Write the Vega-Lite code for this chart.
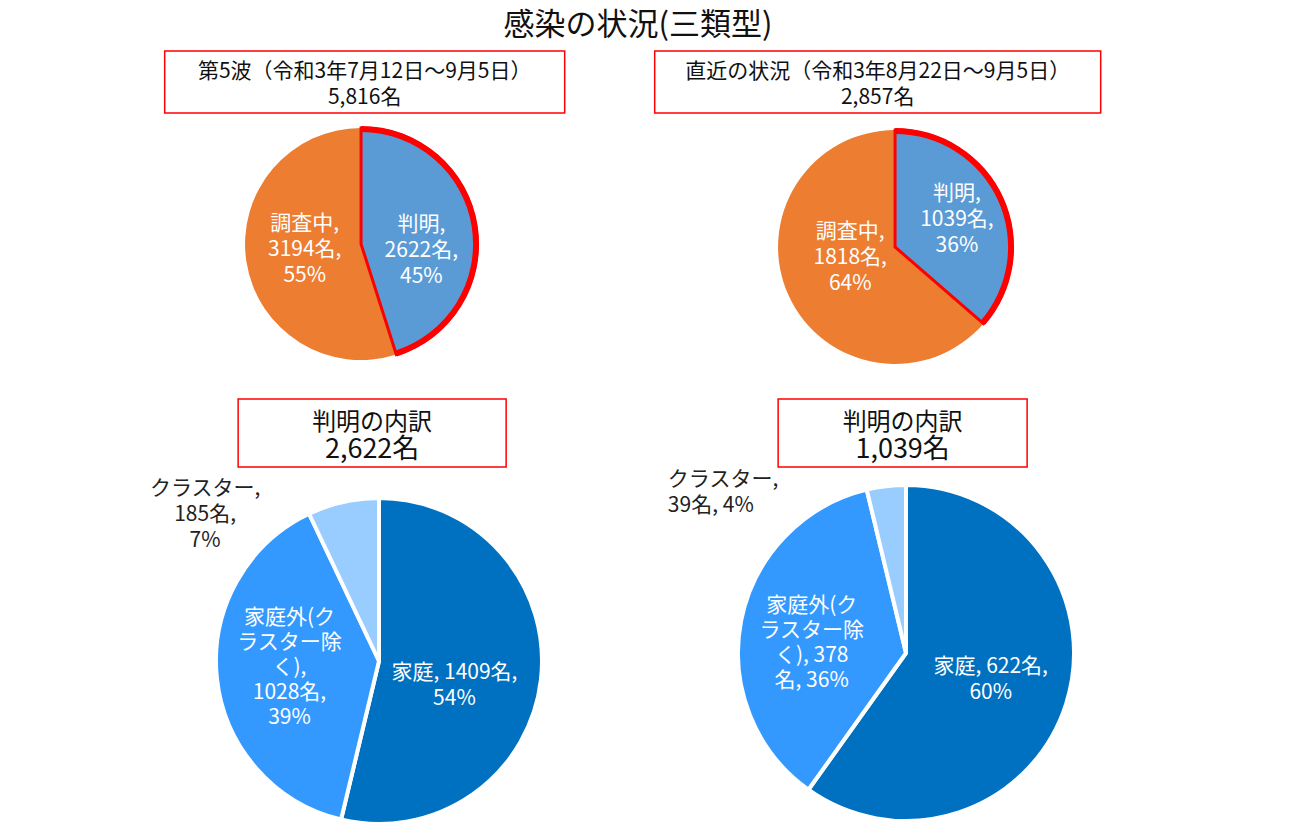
{
  "$schema": "https://vega.github.io/schema/vega-lite/v6.json",
  "padding": {"left": 140, "top": 0, "right": 0, "bottom": 0},
  "background": "white",
  "config": {"view": {"stroke": null}, "font": "Noto Sans CJK JP", "text": {"font": "Noto Sans CJK JP"}},
  "center": true,
  "spacing": 18,
  "vconcat": [
    {
      "center": true,
      "spacing": 0,
      "vconcat": [
        {
          "width": 936, "height": 50,
          "data": {"values": [{"t": "感染の状況(三類型)"}]},
          "mark": {"type": "text", "fontSize": 31, "dy": 1, "dx": 5, "color": "#111111", "font": "Noto Sans CJK JP", "baseline": "middle", "align": "center"},
          "encoding": {"text": {"field": "t", "type": "nominal"}}
        },
        {
          "bounds": "flush",
          "spacing": 90,
          "hconcat": [
            {
              "width": 400, "height": 62,
              "view": {"stroke": "#FF0000", "strokeWidth": 1.5},
              "data": {"values": [{"t1": "第5波（令和3年7月12日～9月5日）", "t2": "5,816名"}]},
              "layer": [
                {"mark": {"type": "text", "fontSize": 21, "dy": -10, "color": "#111111", "font": "Noto Sans CJK JP", "baseline": "middle"}, "encoding": {"text": {"field": "t1", "type": "nominal"}}},
                {"mark": {"type": "text", "fontSize": 21, "dy": 16, "color": "#111111", "font": "Noto Sans CJK JP", "baseline": "middle"}, "encoding": {"text": {"field": "t2", "type": "nominal"}}}
              ]
            },
            {
              "width": 446, "height": 62,
              "view": {"stroke": "#FF0000", "strokeWidth": 1.5},
              "data": {"values": [{"t1": "直近の状況（令和3年8月22日～9月5日）", "t2": "2,857名"}]},
              "layer": [
                {"mark": {"type": "text", "fontSize": 21, "dy": -10, "color": "#111111", "font": "Noto Sans CJK JP", "baseline": "middle"}, "encoding": {"text": {"field": "t1", "type": "nominal"}}},
                {"mark": {"type": "text", "fontSize": 21, "dy": 16, "color": "#111111", "font": "Noto Sans CJK JP", "baseline": "middle"}, "encoding": {"text": {"field": "t2", "type": "nominal"}}}
              ]
            }
          ]
        },
        {
          "bounds": "flush",
          "spacing": 284,
          "hconcat": [
            {
              "width": 240, "height": 260,
              "data": {"values": [
                {"k": "判明", "v": 2622, "label": "判明,\n2622名,\n45%"},
                {"k": "調査中", "v": 3194, "label": "調査中,\n3194名,\n55%"}
              ]},
              "encoding": {
                "theta": {"field": "v", "type": "quantitative", "stack": "normalize"},
                "order": {"field": "v", "type": "quantitative", "sort": "ascending"},
                "detail": {"field": "k", "type": "nominal"}
              },
              "layer": [
                {"mark": {"type": "arc", "outerRadius": 116}, "encoding": {"color": {"field": "k", "type": "nominal", "scale": {"domain": ["判明", "調査中", "家庭", "家庭外", "クラスター"], "range": ["#5B9BD5", "#ED7D31", "#0070C0", "#3399FF", "#99CCFF"]}, "legend": null}}},
                {"mark": {"type": "arc", "outerRadius": 116, "fill": "transparent", "stroke": "#FF0000", "strokeWidth": 3}, "encoding": {"strokeOpacity": {"condition": {"test": "datum.k === '判明'", "value": 1}, "value": 0}}},
                {"mark": {"type": "arc", "outerRadius": 118, "innerRadius": 112, "fill": "#FF0000"}, "encoding": {"fillOpacity": {"condition": {"test": "datum.k === '判明'", "value": 1}, "value": 0}}},
                {"mark": {"type": "text", "radius": 60, "dx": 1, "dy": -10, "fontSize": 21, "lineBreak": "\n", "lineHeight": 26, "color": "white", "font": "Noto Sans CJK JP", "baseline": "middle"}, "encoding": {"text": {"condition": {"test": "datum.k === '判明'", "field": "label", "type": "nominal"}, "value": ""}}},
                {"mark": {"type": "text", "radius": 56, "dx": -1, "dy": -29, "fontSize": 21, "lineBreak": "\n", "lineHeight": 26, "color": "white", "font": "Noto Sans CJK JP", "baseline": "middle"}, "encoding": {"text": {"condition": {"test": "datum.k === '調査中'", "field": "label", "type": "nominal"}, "value": ""}}}
              ]
            },
            {
              "width": 260, "height": 266,
              "data": {"values": [
                {"k": "判明", "v": 1039, "label": "判明,\n1039名,\n36%"},
                {"k": "調査中", "v": 1818, "label": "調査中,\n1818名,\n64%"}
              ]},
              "encoding": {
                "theta": {"field": "v", "type": "quantitative", "stack": "normalize"},
                "order": {"field": "v", "type": "quantitative", "sort": "ascending"},
                "detail": {"field": "k", "type": "nominal"}
              },
              "layer": [
                {"mark": {"type": "arc", "outerRadius": 117}, "encoding": {"color": {"field": "k", "type": "nominal", "scale": {"domain": ["判明", "調査中", "家庭", "家庭外", "クラスター"], "range": ["#5B9BD5", "#ED7D31", "#0070C0", "#3399FF", "#99CCFF"]}, "legend": null}}},
                {"mark": {"type": "arc", "outerRadius": 117, "fill": "transparent", "stroke": "#FF0000", "strokeWidth": 3}, "encoding": {"strokeOpacity": {"condition": {"test": "datum.k === '判明'", "value": 1}, "value": 0}}},
                {"mark": {"type": "arc", "outerRadius": 119, "innerRadius": 113, "fill": "#FF0000"}, "encoding": {"fillOpacity": {"condition": {"test": "datum.k === '判明'", "value": 1}, "value": 0}}},
                {"mark": {"type": "text", "radius": 68, "dx": 0, "dy": -25, "fontSize": 21, "lineBreak": "\n", "lineHeight": 26, "color": "white", "font": "Noto Sans CJK JP", "baseline": "middle"}, "encoding": {"text": {"condition": {"test": "datum.k === '判明'", "field": "label", "type": "nominal"}, "value": ""}}},
                {"mark": {"type": "text", "radius": 46, "dx": -3, "dy": -34, "fontSize": 21, "lineBreak": "\n", "lineHeight": 26, "color": "white", "font": "Noto Sans CJK JP", "baseline": "middle"}, "encoding": {"text": {"condition": {"test": "datum.k === '調査中'", "field": "label", "type": "nominal"}, "value": ""}}}
              ]
            }
          ]
        }
      ]
    },
    {
      "center": true,
      "spacing": 0,
      "vconcat": [
        {
          "bounds": "flush",
          "spacing": 272,
          "hconcat": [
            {
              "width": 268, "height": 68,
              "view": {"stroke": "#FF0000", "strokeWidth": 1.5},
              "data": {"values": [{"t1": "判明の内訳", "t2": "2,622名"}]},
              "layer": [
                {"mark": {"type": "text", "fontSize": 24, "dy": -10, "color": "#111111", "font": "Noto Sans CJK JP", "baseline": "middle"}, "encoding": {"text": {"field": "t1", "type": "nominal"}}},
                {"mark": {"type": "text", "fontSize": 27, "dy": 17, "color": "#111111", "font": "Noto Sans CJK JP", "baseline": "middle"}, "encoding": {"text": {"field": "t2", "type": "nominal"}}}
              ]
            },
            {
              "width": 249, "height": 68,
              "view": {"stroke": "#FF0000", "strokeWidth": 1.5},
              "data": {"values": [{"t1": "判明の内訳", "t2": "1,039名"}]},
              "layer": [
                {"mark": {"type": "text", "fontSize": 24, "dy": -10, "color": "#111111", "font": "Noto Sans CJK JP", "baseline": "middle"}, "encoding": {"text": {"field": "t1", "type": "nominal"}}},
                {"mark": {"type": "text", "fontSize": 27, "dy": 17, "color": "#111111", "font": "Noto Sans CJK JP", "baseline": "middle"}, "encoding": {"text": {"field": "t2", "type": "nominal"}}}
              ]
            }
          ]
        },
        {
          "bounds": "flush",
          "spacing": 68,
          "hconcat": [
            {
              "width": 478, "height": 316,
              "data": {"values": [
                {"k": "家庭", "v": 1409, "label": "家庭, 1409名,\n54%"},
                {"k": "家庭外", "v": 1028, "label": "家庭外(ク\nラスター除\nく),\n1028名,\n39%"},
                {"k": "クラスター", "v": 185, "label": "クラスター,\n185名,\n7%"}
              ]},
              "layer": [
                {
                  "mark": {"type": "arc", "outerRadius": 163, "stroke": "white", "strokeWidth": 4},
                  "encoding": {
                    "theta": {"field": "v", "type": "quantitative", "stack": "normalize", "scale": {"domain": [0, 1]}},
                    "order": {"field": "v", "type": "quantitative", "sort": "descending"},
                    "detail": {"field": "k", "type": "nominal"},
                    "color": {"field": "k", "type": "nominal", "scale": {"domain": ["判明", "調査中", "家庭", "家庭外", "クラスター"], "range": ["#5B9BD5", "#ED7D31", "#0070C0", "#3399FF", "#99CCFF"]}, "legend": null}
                  }
                },
                {
                  "mark": {"type": "text", "radius": 80, "dx": -4, "dy": 3, "fontSize": 21, "lineBreak": "\n", "lineHeight": 26, "color": "white", "font": "Noto Sans CJK JP", "baseline": "middle"},
                  "encoding": {
                    "theta": {"field": "v", "type": "quantitative", "stack": "normalize", "scale": {"domain": [0, 1]}},
                    "order": {"field": "v", "type": "quantitative", "sort": "descending"},
                    "detail": {"field": "k", "type": "nominal"},
                    "text": {"condition": {"test": "datum.k === '家庭'", "field": "label", "type": "nominal"}, "value": ""}
                  }
                },
                {
                  "mark": {"type": "text", "radius": 90, "dx": 0, "dy": -52, "fontSize": 21, "lineBreak": "\n", "lineHeight": 25, "color": "white", "font": "Noto Sans CJK JP", "baseline": "middle"},
                  "encoding": {
                    "theta": {"field": "v", "type": "quantitative", "stack": "normalize", "scale": {"domain": [0, 1]}},
                    "order": {"field": "v", "type": "quantitative", "sort": "descending"},
                    "detail": {"field": "k", "type": "nominal"},
                    "text": {"condition": {"test": "datum.k === '家庭外'", "field": "label", "type": "nominal"}, "value": ""}
                  }
                },
                {
                  "transform": [
                    {"stack": "v", "groupby": [], "sort": [{"field": "v", "order": "descending"}], "offset": "normalize", "as": ["s0", "s1"]},
                    {"filter": "datum.k === 'クラスター'"}
                  ],
                  "mark": {"type": "text", "radius": 170, "dx": -101, "dy": -18, "fontSize": 21, "lineBreak": "\n", "lineHeight": 26, "color": "#222222", "font": "Noto Sans CJK JP", "baseline": "middle", "align": "center"},
                  "encoding": {
                    "theta": {"field": "s0", "type": "quantitative", "scale": {"domain": [0, 1]}},
                    "text": {"field": "label", "type": "nominal"}
                  }
                }
              ]
            },
            {
              "width": 440, "height": 300,
              "data": {"values": [
                {"k": "家庭", "v": 622, "label": "家庭, 622名,\n60%"},
                {"k": "家庭外", "v": 378, "label": "家庭外(ク\nラスター除\nく), 378\n名, 36%"},
                {"k": "クラスター", "v": 39, "label": "クラスター,\n39名, 4%"}
              ]},
              "layer": [
                {
                  "mark": {"type": "arc", "outerRadius": 168, "stroke": "white", "strokeWidth": 4},
                  "encoding": {
                    "theta": {"field": "v", "type": "quantitative", "stack": "normalize", "scale": {"domain": [0, 1]}},
                    "order": {"field": "v", "type": "quantitative", "sort": "descending"},
                    "detail": {"field": "k", "type": "nominal"},
                    "color": {"field": "k", "type": "nominal", "scale": {"domain": ["判明", "調査中", "家庭", "家庭外", "クラスター"], "range": ["#5B9BD5", "#ED7D31", "#0070C0", "#3399FF", "#99CCFF"]}, "legend": null}
                  }
                },
                {
                  "mark": {"type": "text", "radius": 89, "dx": 0, "dy": -13, "fontSize": 21, "lineBreak": "\n", "lineHeight": 26, "color": "white", "font": "Noto Sans CJK JP", "baseline": "middle"},
                  "encoding": {
                    "theta": {"field": "v", "type": "quantitative", "stack": "normalize", "scale": {"domain": [0, 1]}},
                    "order": {"field": "v", "type": "quantitative", "sort": "descending"},
                    "detail": {"field": "k", "type": "nominal"},
                    "text": {"condition": {"test": "datum.k === '家庭'", "field": "label", "type": "nominal"}, "value": ""}
                  }
                },
                {
                  "mark": {"type": "text", "radius": 91, "dx": -5, "dy": -30, "fontSize": 21, "lineBreak": "\n", "lineHeight": 25, "color": "white", "font": "Noto Sans CJK JP", "baseline": "middle"},
                  "encoding": {
                    "theta": {"field": "v", "type": "quantitative", "stack": "normalize", "scale": {"domain": [0, 1]}},
                    "order": {"field": "v", "type": "quantitative", "sort": "descending"},
                    "detail": {"field": "k", "type": "nominal"},
                    "text": {"condition": {"test": "datum.k === '家庭外'", "field": "label", "type": "nominal"}, "value": ""}
                  }
                },
                {
                  "transform": [
                    {"stack": "v", "groupby": [], "sort": [{"field": "v", "order": "descending"}], "offset": "normalize", "as": ["s0", "s1"]},
                    {"filter": "datum.k === 'クラスター'"}
                  ],
                  "mark": {"type": "text", "radius": 176, "dx": -197, "dy": -2, "fontSize": 21, "lineBreak": "\n", "lineHeight": 26, "color": "#222222", "font": "Noto Sans CJK JP", "baseline": "middle", "align": "left"},
                  "encoding": {
                    "theta": {"field": "s0", "type": "quantitative", "scale": {"domain": [0, 1]}},
                    "text": {"field": "label", "type": "nominal"}
                  }
                }
              ]
            }
          ]
        }
      ]
    }
  ]
}
